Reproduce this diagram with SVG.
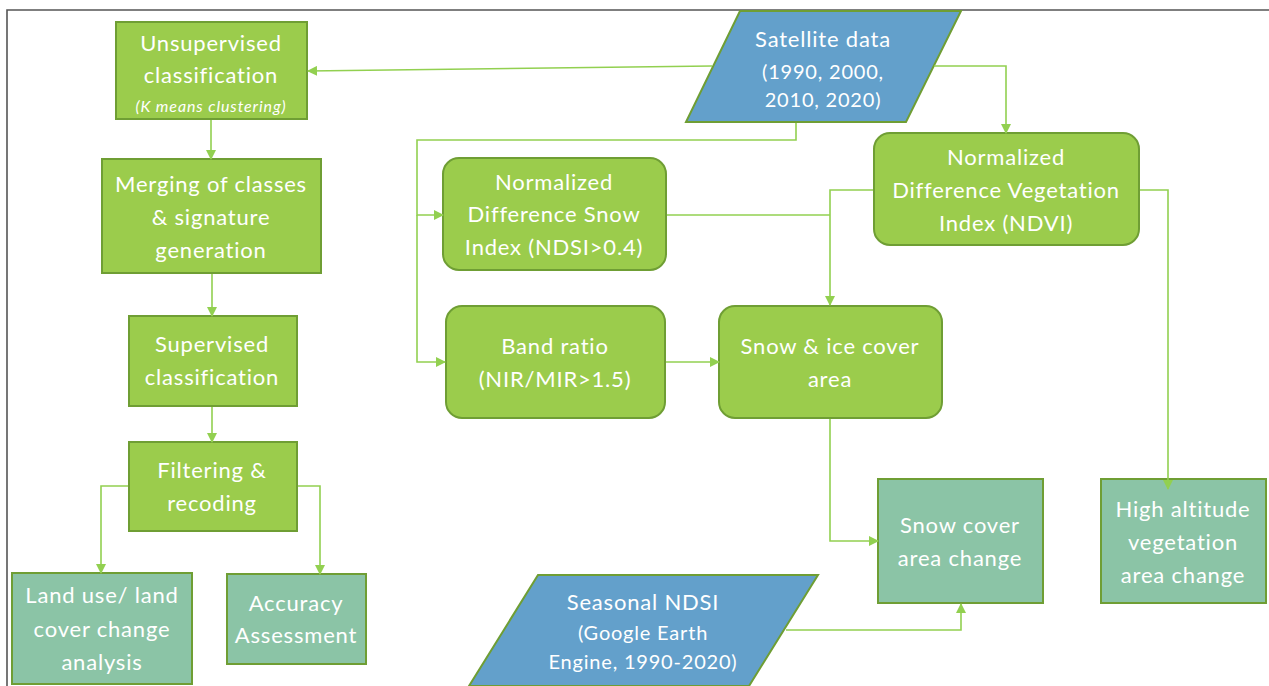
<svg xmlns="http://www.w3.org/2000/svg" width="1269" height="686" viewBox="0 0 1269 686">
<defs>
<style>
.g{fill:#9bcc4c;stroke:#6f9e34;stroke-width:2}
.t{fill:#8bc4a6;stroke:#6f9e34;stroke-width:2}
.b{fill:#63a0cb;stroke:#6f9e34;stroke-width:2}
text{font-family:Lato,"Open Sans",sans-serif;font-size:22px;letter-spacing:0.8px;fill:#ffffff;text-anchor:middle}
.i{font-size:16px;font-style:italic;letter-spacing:0.9px}
.s{font-size:20px;letter-spacing:0.8px}
.c{fill:none;stroke:#92d050;stroke-width:1.6}
</style>
<marker id="a" markerUnits="userSpaceOnUse" markerWidth="10" markerHeight="10" refX="9" refY="5" orient="auto">
<path d="M0,0 L10,5 L0,10 Z" fill="#92d050"/>
</marker>
</defs>
<rect width="1269" height="686" fill="#ffffff"/>
<path d="M7,686 V10 H1269" fill="none" stroke="#555" stroke-width="1.6"/>
<g id="sat">
<polygon class="b" points="740,11 961,11 906,122 686,122"/>
<text x="823" y="47">Satellite data</text>
<text x="823" y="79" class="s">(1990, 2000,</text>
<text x="823" y="107" class="s">2010, 2020)</text>
</g>
<g id="unsup">
<rect class="g" x="116" y="22" width="191" height="97"/>
<text x="211" y="51">Unsupervised</text>
<text x="211" y="83">classification</text>
<text x="211" y="112" class="i">(K means clustering)</text>
</g>
<g id="merge">
<rect class="g" x="102" y="159" width="219" height="114"/>
<text x="211" y="192">Merging of classes</text>
<text x="211" y="225">&amp; signature</text>
<text x="211" y="258">generation</text>
</g>
<g id="sup">
<rect class="g" x="129" y="316" width="168" height="90"/>
<text x="212" y="352">Supervised</text>
<text x="212" y="385">classification</text>
</g>
<g id="filter">
<rect class="g" x="129" y="442" width="168" height="89"/>
<text x="212" y="478">Filtering &amp;</text>
<text x="212" y="511">recoding</text>
</g>
<g id="landuse">
<rect class="t" x="12" y="573" width="180" height="111"/>
<text x="102" y="603">Land use/ land</text>
<text x="102" y="637">cover change</text>
<text x="102" y="670">analysis</text>
</g>
<g id="accuracy">
<rect class="t" x="227" y="574" width="139" height="90"/>
<text x="296" y="611">Accuracy</text>
<text x="296" y="643">Assessment</text>
</g>
<g id="ndsi">
<rect class="g" x="443" y="158" width="223" height="112" rx="16"/>
<text x="554" y="190">Normalized</text>
<text x="554" y="222">Difference Snow</text>
<text x="554" y="255">Index (NDSI&gt;0.4)</text>
</g>
<g id="ndvi">
<rect class="g" x="874" y="133" width="265" height="112" rx="16"/>
<text x="1006" y="165">Normalized</text>
<text x="1006" y="198">Difference Vegetation</text>
<text x="1006" y="231">Index (NDVI)</text>
</g>
<g id="band">
<rect class="g" x="446" y="306" width="219" height="112" rx="16"/>
<text x="555" y="354">Band ratio</text>
<text x="555" y="387">(NIR/MIR&gt;1.5)</text>
</g>
<g id="snowice">
<rect class="g" x="719" y="306" width="223" height="112" rx="16"/>
<text x="830" y="354">Snow &amp; ice cover</text>
<text x="830" y="387">area</text>
</g>
<g id="snowchange">
<rect class="t" x="878" y="479" width="165" height="124"/>
<text x="960" y="533">Snow cover</text>
<text x="960" y="566">area change</text>
</g>
<g id="highalt">
<rect class="t" x="1101" y="479" width="165" height="124"/>
<text x="1183" y="517">High altitude</text>
<text x="1183" y="550">vegetation</text>
<text x="1183" y="583">area change</text>
</g>
<g id="seasonal">
<polygon class="b" points="538,575 818,575 749,686 469,686"/>
<text x="643" y="610">Seasonal NDSI</text>
<text x="643" y="640" class="s">(Google Earth</text>
<text x="643" y="669" class="s">Engine, 1990-2020)</text>
</g>
<g id="connectors">
<path class="c" d="M712,66 L308,71" marker-end="url(#a)"/>
<path class="c" d="M934,66 H1006 V133" marker-end="url(#a)"/>
<path class="c" d="M796,123 V140 H417 V215 H443" marker-end="url(#a)"/>
<path class="c" d="M417,215 V362 H445" marker-end="url(#a)"/>
<path class="c" d="M211,120 V159" marker-end="url(#a)"/>
<path class="c" d="M212,274 V316" marker-end="url(#a)"/>
<path class="c" d="M212,407 V442" marker-end="url(#a)"/>
<path class="c" d="M128,486 H101 V573" marker-end="url(#a)"/>
<path class="c" d="M298,486 H320 V574" marker-end="url(#a)"/>
<path class="c" d="M667,215 H830"/>
<path class="c" d="M873,190 H830 V305" marker-end="url(#a)"/>
<path class="c" d="M1140,190 H1168 V489" marker-end="url(#a)"/>
<path class="c" d="M666,362 H719" marker-end="url(#a)"/>
<path class="c" d="M830,419 V541 H878" marker-end="url(#a)"/>
<path class="c" d="M786,630 H961 V604" marker-end="url(#a)"/>
</g>
</svg>
